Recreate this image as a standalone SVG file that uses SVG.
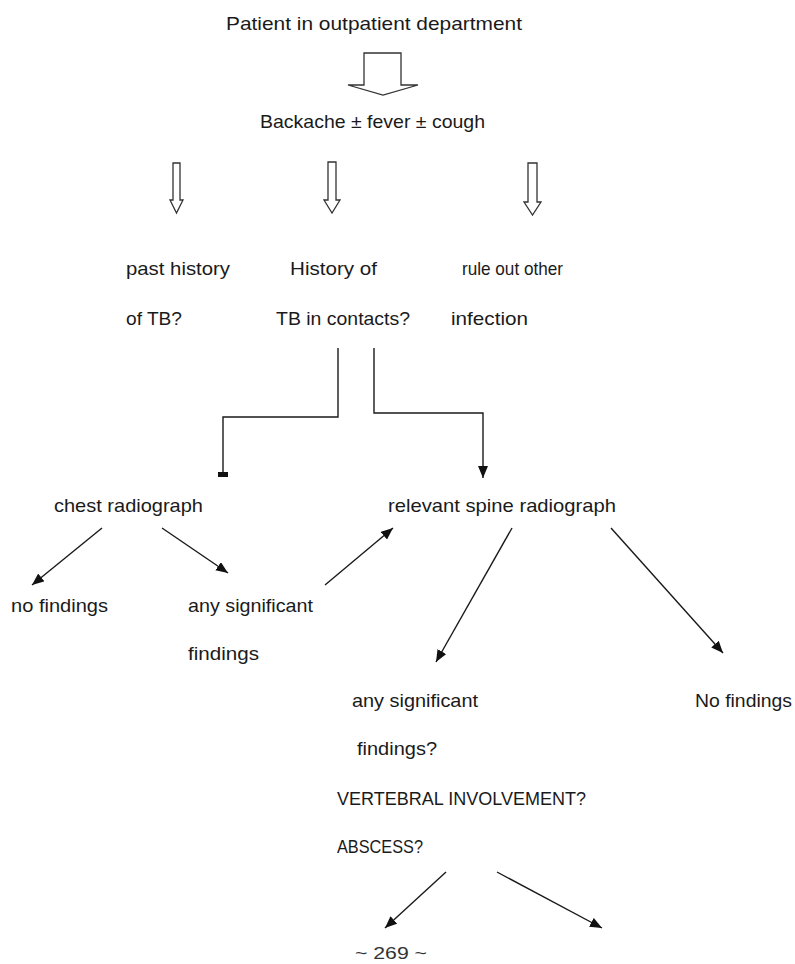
<svg xmlns="http://www.w3.org/2000/svg" width="795" height="964" viewBox="0 0 795 964">
<style>
text{font-family:"Liberation Sans Narrow","Liberation Sans","Noto Sans",Arial,sans-serif;font-size:19px;fill:#1a1a1a}
.c{fill:none;stroke:#1a1a1a;stroke-width:1.4}
.b{fill:#fff;stroke:#333;stroke-width:1.3}
</style>
<defs>
<marker id="ah" markerWidth="12" markerHeight="10" viewBox="0 0 12 10" refX="12" refY="5" orient="auto" markerUnits="userSpaceOnUse">
<path d="M0,0 L12,5 L0,10 Z" fill="#111"/>
</marker>
</defs>
<rect width="795" height="964" fill="#fff"/>
<g id="n-patient"><text x="226" y="30" textLength="296" lengthAdjust="spacingAndGlyphs">Patient in outpatient department</text></g>
<g id="n-backache"><text x="260" y="128" textLength="225" lengthAdjust="spacingAndGlyphs">Backache ± fever ± cough</text></g>
<g id="n-past"><text x="126" y="275" textLength="104" lengthAdjust="spacingAndGlyphs">past history</text><text x="126" y="325" textLength="56" lengthAdjust="spacingAndGlyphs">of TB?</text></g>
<g id="n-contacts"><text x="290" y="275" textLength="87" lengthAdjust="spacingAndGlyphs">History of</text><text x="276" y="325" textLength="134" lengthAdjust="spacingAndGlyphs">TB in contacts?</text></g>
<g id="n-infection"><text x="462" y="275" textLength="101" lengthAdjust="spacingAndGlyphs">rule out other</text><text x="451" y="325" textLength="77" lengthAdjust="spacingAndGlyphs">infection</text></g>
<g id="n-chest"><text x="54" y="512" textLength="149" lengthAdjust="spacingAndGlyphs">chest radiograph</text></g>
<g id="n-spine"><text x="388" y="512" textLength="228" lengthAdjust="spacingAndGlyphs">relevant spine radiograph</text></g>
<g id="n-nofind1"><text x="11" y="612" textLength="97" lengthAdjust="spacingAndGlyphs">no findings</text></g>
<g id="n-sig1"><text x="188" y="612" textLength="125" lengthAdjust="spacingAndGlyphs">any significant</text><text x="188" y="660" textLength="71" lengthAdjust="spacingAndGlyphs">findings</text></g>
<g id="n-sig2"><text x="352" y="707" textLength="126" lengthAdjust="spacingAndGlyphs">any significant</text><text x="357" y="755" textLength="80" lengthAdjust="spacingAndGlyphs">findings?</text><text x="337" y="805" textLength="249" lengthAdjust="spacingAndGlyphs">VERTEBRAL INVOLVEMENT?</text><text x="337" y="853" textLength="86" lengthAdjust="spacingAndGlyphs">ABSCESS?</text></g>
<g id="n-nofind2"><text x="695" y="707" textLength="97" lengthAdjust="spacingAndGlyphs">No findings</text></g>
<g id="n-page"><text x="355" y="959" textLength="72" lengthAdjust="spacingAndGlyphs" style="font-size:17px;fill:#333">~ 269 ~</text></g>
<g id="connectors">
<path class="b" d="M364,53 H401 V85 H418 L383,95 L348,85 H364 Z"/>
<path class="b" d="M173,163 H180 V200 H183 L176.5,213 L170,200 H173 Z"/>
<path class="b" d="M328,162 H336 V200 H340 L332,213 L324,200 H328 Z"/>
<path class="b" d="M528,163 H537 V202 H541 L532.5,215 L524,202 H528 Z"/>
<path class="c" d="M338,348 V417 H223 V474"/>
<path d="M218,472 H228 V477 H218 Z" fill="#111"/>
<path class="c" d="M374,348 V413 H483 V478" marker-end="url(#ah)"/>
<path class="c" d="M102,528 L32,585" marker-end="url(#ah)"/>
<path class="c" d="M162,528 L228,573" marker-end="url(#ah)"/>
<path class="c" d="M325,585 L393,528" marker-end="url(#ah)"/>
<path class="c" d="M512,528 L436,662" marker-end="url(#ah)"/>
<path class="c" d="M611,528 L723,653" marker-end="url(#ah)"/>
<path class="c" d="M446,872 L385,928" marker-end="url(#ah)"/>
<path class="c" d="M497,872 L602,928" marker-end="url(#ah)"/>
</g>
</svg>
